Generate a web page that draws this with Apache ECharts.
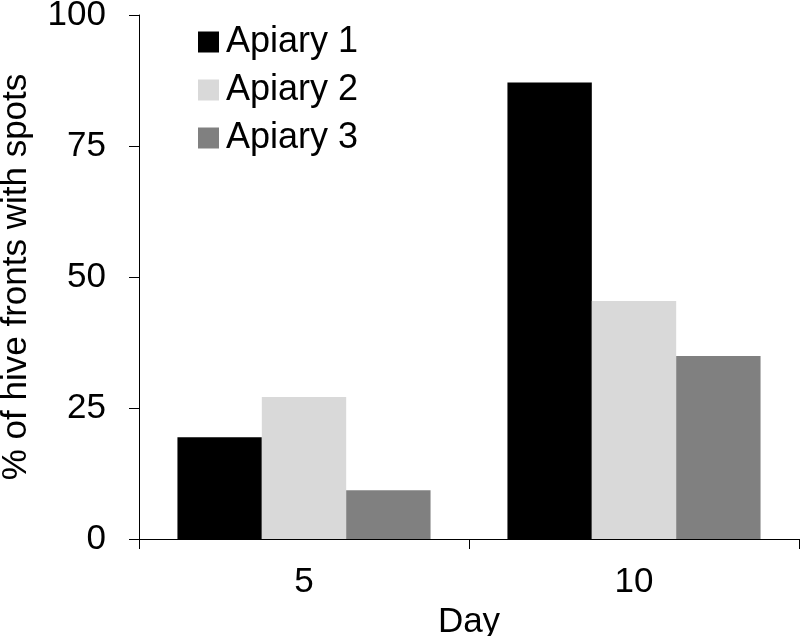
<!DOCTYPE html>
<html>
<head>
<meta charset="utf-8">
<script src="https://cdn.jsdelivr.net/npm/echarts@6/dist/echarts.min.js"></script>
<style>html,body{margin:0;padding:0;background:#fff}#c{width:800px;height:636px}</style>
</head>
<body>
<div id="c"></div>
<script>
const categories = ['5', '10'];
const apiary1 = [19.4, 87.1];
const apiary2 = [27.1, 45.4];
const apiary3 = [9.3, 34.9];
const seriesNames = ['Apiary 1', 'Apiary 2', 'Apiary 3'];
const yTicks = [0, 25, 50, 75, 100];

const FONT = '"Liberation Sans", Arial, sans-serif';
const chart = echarts.init(document.getElementById('c'));
chart.setOption({
  backgroundColor: '#fff',
  animation: false,
  grid: { left: 139, right: 1, top: 15, bottom: 97, containLabel: false, outerBoundsMode: 'none' },
  legend: {
    orient: 'vertical',
    left: 193,
    top: 18,
    itemWidth: 21,
    itemHeight: 21,
    itemGap: 10,
    icon: 'rect',
    textStyle: { fontFamily: FONT, fontSize: 36, color: '#000', lineHeight: 38, padding: [0,0,0,2] },
    data: seriesNames
  },
  xAxis: {
    type: 'category',
    data: categories,
    name: 'Day',
    nameLocation: 'middle',
    nameGap: 56,
    nameTextStyle: { fontFamily: FONT, fontSize: 35, color: '#000' },
    axisLine: { lineStyle: { color: '#000', width: 1 } },
    axisTick: { show: true, length: 10, lineStyle: { color: '#000' } },
    axisLabel: { fontFamily: FONT, fontSize: 35, color: '#000', margin: 26 }
  },
  yAxis: {
    type: 'value',
    min: yTicks[0],
    max: yTicks[yTicks.length - 1],
    interval: 25,
    name: '% of hive fronts with spots',
    nameLocation: 'middle',
    nameGap: 105,
    nameTextStyle: { fontFamily: FONT, fontSize: 35, color: '#000' },
    axisLine: { show: true, lineStyle: { color: '#000', width: 1 } },
    axisTick: { show: true, length: 10, lineStyle: { color: '#000' } },
    splitLine: { show: false },
    axisLabel: { fontFamily: FONT, fontSize: 35, color: '#000', margin: 33 }
  },
  series: [
    { name: seriesNames[0], type: 'bar', data: apiary1, itemStyle: { color: '#000000' }, barGap: '0%', barCategoryGap: '23.3%' },
    { name: seriesNames[1], type: 'bar', data: apiary2, itemStyle: { color: '#d9d9d9' }, barGap: '0%', barCategoryGap: '23.3%' },
    { name: seriesNames[2], type: 'bar', data: apiary3, itemStyle: { color: '#808080' }, barGap: '0%', barCategoryGap: '23.3%' }
  ]
});
</script>
</body>
</html>
